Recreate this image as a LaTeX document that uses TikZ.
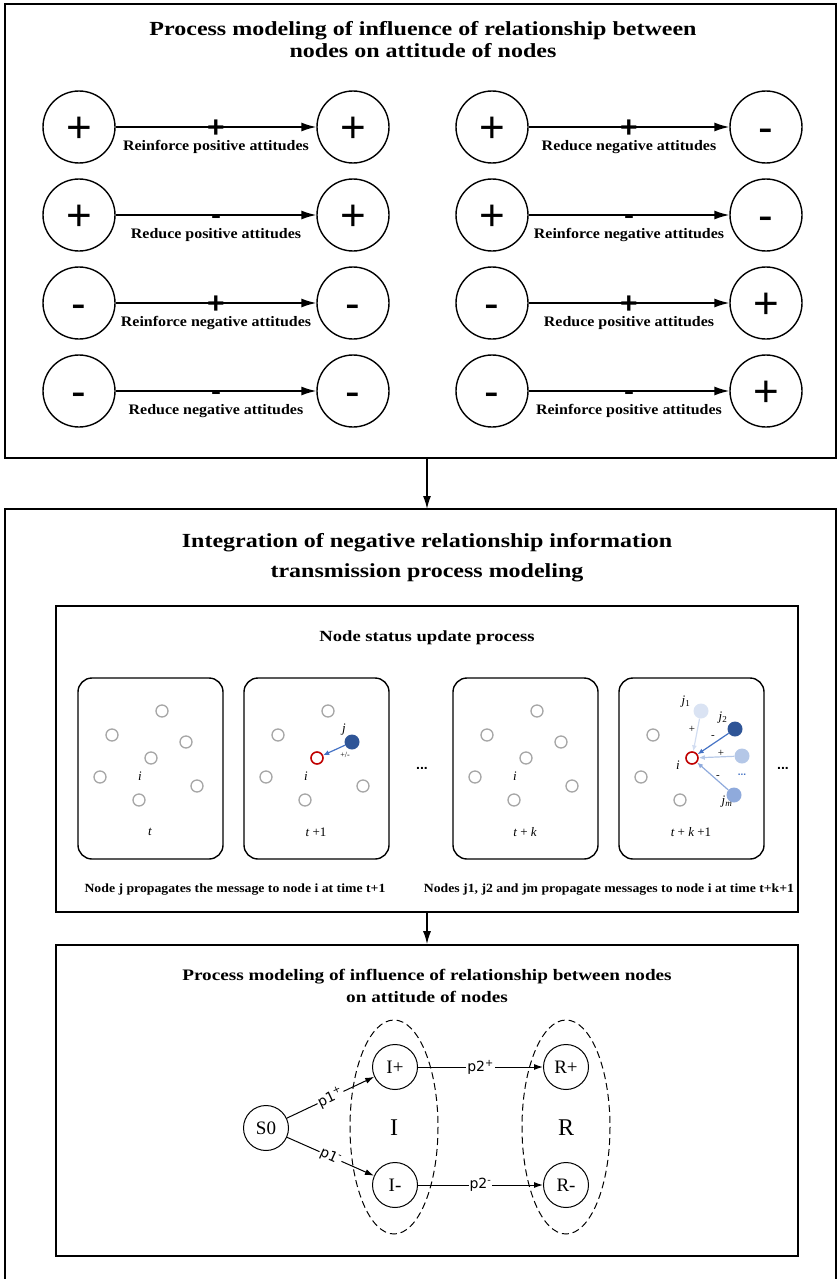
\documentclass[tikz,border=0pt]{standalone}
\usepackage{fontspec}
\setmainfont{Liberation Serif}
\newfontfamily\arialfont{Liberation Sans}
\newfontfamily\dejafont{DejaVu Sans}
\newfontfamily\headfont[FakeStretch=1.2]{Liberation Serif}
\newfontfamily\capfont[FakeStretch=1.1]{Liberation Serif}
\usetikzlibrary{arrows.meta}

\definecolor{darkBlue}{HTML}{2F5597}
\definecolor{midBlue}{HTML}{4472C4}
\definecolor{paleBlue}{HTML}{B4C7E7}
\definecolor{lightBlue}{HTML}{DAE3F3}
\definecolor{softBlue}{HTML}{8FAADC}
\definecolor{darkRed}{HTML}{C00000}

\begin{document}
\begin{tikzpicture}[x=1pt, y=-1pt,
    boxStyle/.style={draw, line width=1.6pt},
    arrowStyle/.style={line width=1.4pt, -{Latex[length=13pt, width=8pt]}},
    signStyle/.style={circle, draw, line width=1.4pt, minimum size=72pt, inner sep=0pt, text height=31pt, text depth=0pt, font=\arialfont\fontsize{44}{44}\selectfont},
    linkStyle/.style={line width=1.4pt, -{Latex[length=15pt, width=9pt]}},
    midStyle/.style={inner sep=0pt, font=\arialfont\bfseries\fontsize{30}{30}\selectfont},
    plusMid/.style={midStyle, yshift=-2pt},
    minusMid/.style={midStyle, yshift=-4.5pt},
    noteStyle/.style={inner sep=0pt, font=\capfont\bfseries\fontsize{14.5}{14.5}\selectfont},
    titleStyle/.style={align=center, font=\headfont\bfseries\fontsize{20}{22}\selectfont},
    panelStyle/.style={draw, line width=1.4pt, rounded corners=14pt, minimum width=145pt, minimum height=181pt},
    dotStyle/.style={circle, draw=gray!70, line width=1.3pt, minimum size=12pt, inner sep=0pt},
    focusStyle/.style={dotStyle, draw=darkRed, line width=1.6pt},
    senderStyle/.style={circle, minimum size=15pt, inner sep=0pt},
    varStyle/.style={inner sep=0pt, font=\itshape\fontsize{13}{13}\selectfont},
    signLabel/.style={inner sep=0pt, font=\fontsize{11}{11}\selectfont},
    tipStyle/.style={line width=1.2pt, -{Latex[length=6pt, width=5pt]}},
    captionStyle/.style={inner sep=0pt, font=\capfont\bfseries\fontsize{12.5}{12.5}\selectfont},
    stateStyle/.style={circle, draw, line width=1pt, minimum size=45pt, inner sep=0pt, font=\fontsize{19}{19}\selectfont},
    groupStyle/.style={dash pattern=on 7pt off 4pt, line width=1pt},
    flowStyle/.style={line width=1pt, -{Latex[length=9pt, width=6pt]}},
    probStyle/.style={fill=white, inner sep=1pt, font=\dejafont\fontsize{14}{14}\selectfont}
]
\useasboundingbox (0,0) rectangle (838,1279);

% attitude influence part
\node[boxStyle, minimum width=831pt, minimum height=454pt] (topBox) at (420.5,231) {};
\node[titleStyle] (topTitle) at (423,40) {Process modeling of influence of relationship between\\nodes on attitude of nodes};

\node[signStyle] (src1) at (79,127) {+};
\node[signStyle] (dst1) at (353,127) {+};
\node[signStyle] (src2) at (79,215) {+};
\node[signStyle] (dst2) at (353,215) {+};
\node[signStyle] (src3) at (79,303) {-};
\node[signStyle] (dst3) at (353,303) {-};
\node[signStyle] (src4) at (79,391) {-};
\node[signStyle] (dst4) at (353,391) {-};
\node[signStyle] (src5) at (492,127) {+};
\node[signStyle] (dst5) at (766,127) {-};
\node[signStyle] (src6) at (492,215) {+};
\node[signStyle] (dst6) at (766,215) {-};
\node[signStyle] (src7) at (492,303) {-};
\node[signStyle] (dst7) at (766,303) {+};
\node[signStyle] (src8) at (492,391) {-};
\node[signStyle] (dst8) at (766,391) {+};

\draw[linkStyle] (src1) -- node[plusMid] {+} node[noteStyle, yshift=-20pt] {Reinforce positive attitudes} (dst1);
\draw[linkStyle] (src2) -- node[minusMid] {-} node[noteStyle, yshift=-20pt] {Reduce positive attitudes} (dst2);
\draw[linkStyle] (src3) -- node[plusMid] {+} node[noteStyle, yshift=-20pt] {Reinforce negative attitudes} (dst3);
\draw[linkStyle] (src4) -- node[minusMid] {-} node[noteStyle, yshift=-20pt] {Reduce negative attitudes} (dst4);
\draw[linkStyle] (src5) -- node[plusMid] {+} node[noteStyle, yshift=-20pt] {Reduce negative attitudes} (dst5);
\draw[linkStyle] (src6) -- node[minusMid] {-} node[noteStyle, yshift=-20pt] {Reinforce negative attitudes} (dst6);
\draw[linkStyle] (src7) -- node[plusMid] {+} node[noteStyle, yshift=-20pt] {Reduce positive attitudes} (dst7);
\draw[linkStyle] (src8) -- node[minusMid] {-} node[noteStyle, yshift=-20pt] {Reinforce positive attitudes} (dst8);

% integration part
\draw[boxStyle] (5,1279) -- (5,509) -- (836,509) -- (836,1279);
\coordinate (mainTop) at (427,509);
\node[titleStyle, font=\headfont\bfseries\fontsize{20}{30}\selectfont] (mainTitle) at (427,558) {Integration of negative relationship information\\transmission process modeling};

\node[boxStyle, minimum width=742pt, minimum height=306pt] (updateBox) at (427,759) {};
\node[font=\headfont\bfseries\fontsize{15.5}{15.5}\selectfont] (updateTitle) at (427,638) {Node status update process};

\begin{scope}[shift={(78,678)}]
    \node[panelStyle] (panel1) at (72.5,90.5) {};
    \node[dotStyle] (a1) at (84,33) {};
    \node[dotStyle] (a2) at (34,57) {};
    \node[dotStyle] (a3) at (108,64) {};
    \node[dotStyle] (a4) at (73,80) {};
    \node[dotStyle] (a5) at (22,99) {};
    \node[dotStyle] (a6) at (119,108) {};
    \node[dotStyle] (a7) at (61,122) {};
    \node[varStyle] (ia) at (62,98) {i};
    \node[varStyle] (ta) at (72,154) {t};
\end{scope}

\begin{scope}[shift={(244,678)}]
    \node[panelStyle] (panel2) at (72.5,90.5) {};
    \node[dotStyle] (b1) at (84,33) {};
    \node[dotStyle] (b2) at (34,57) {};
    \node[focusStyle] (b4) at (73,80) {};
    \node[dotStyle] (b5) at (22,99) {};
    \node[dotStyle] (b6) at (119,108) {};
    \node[dotStyle] (b7) at (61,122) {};
    \node[senderStyle, fill=darkBlue] (jA) at (108,64) {};
    \node[varStyle] (jLabelA) at (100,52) {j};
    \node[varStyle] (ib) at (62,98) {i};
    \node[signLabel, font=\fontsize{8}{8}\selectfont] (pmA) at (101,77) {+/-};
    \node[varStyle] (tb) at (72,154) {t {\upshape +1}};
    \draw[tipStyle, midBlue] (jA) -- (b4);
\end{scope}

\node[font=\arialfont\bfseries\fontsize{14}{14}\selectfont] (gap1) at (422,768) {...};

\begin{scope}[shift={(453,678)}]
    \node[panelStyle] (panel3) at (72.5,90.5) {};
    \node[dotStyle] (c1) at (84,33) {};
    \node[dotStyle] (c2) at (34,57) {};
    \node[dotStyle] (c3) at (108,64) {};
    \node[dotStyle] (c4) at (73,80) {};
    \node[dotStyle] (c5) at (22,99) {};
    \node[dotStyle] (c6) at (119,108) {};
    \node[dotStyle] (c7) at (61,122) {};
    \node[varStyle] (ic) at (62,98) {i};
    \node[varStyle] (tc) at (72,154) {t {\upshape +} k};
\end{scope}

\begin{scope}[shift={(619,678)}]
    \node[panelStyle] (panel4) at (72.5,90.5) {};
    \node[dotStyle] (d2) at (34,57) {};
    \node[dotStyle] (d5) at (22,99) {};
    \node[dotStyle] (d7) at (61,122) {};
    \node[focusStyle] (d4) at (73,80) {};
    \node[senderStyle, fill=lightBlue] (j1) at (82,33) {};
    \node[senderStyle, fill=darkBlue] (j2) at (116,51) {};
    \node[senderStyle, fill=paleBlue] (j3) at (123,78) {};
    \node[senderStyle, fill=softBlue] (jm) at (115,117) {};
    \node[varStyle] (jLabel1) at (67,24) {j\textsubscript{\upshape 1}};
    \node[varStyle] (jLabel2) at (104,40) {j\textsubscript{\upshape 2}};
    \node[varStyle] (jLabelm) at (108,124) {j\textsubscript{m}};
    \node[varStyle] (id) at (59,87) {i};
    \node[signLabel] (s1) at (73,51) {+};
    \node[signLabel] (s2) at (94,59) {-};
    \node[signLabel] (s3) at (102,75) {+};
    \node[signLabel] (s4) at (99,99) {-};
    \node[font=\arialfont\bfseries\fontsize{10}{10}\selectfont, text=midBlue] (moreSenders) at (123,97) {...};
    \node[varStyle] (td) at (72,154) {t {\upshape +} k {\upshape +1}};
    \draw[tipStyle, lightBlue!80!paleBlue] (j1) -- (d4);
    \draw[tipStyle, midBlue] (j2) -- (d4);
    \draw[tipStyle, paleBlue] (j3) -- (d4);
    \draw[tipStyle, softBlue] (jm) -- (d4);
\end{scope}

\node[font=\arialfont\bfseries\fontsize{14}{14}\selectfont] (gap2) at (783,768) {...};

\node[captionStyle] (caption1) at (235,890) {Node j propagates the message to node i at time t+1};
\node[captionStyle] (caption2) at (609,890) {Nodes j1, j2 and jm propagate messages to node i at time t+k+1};

\node[boxStyle, minimum width=742pt, minimum height=311pt] (modelBox) at (427,1100.5) {};
\node[titleStyle, font=\headfont\bfseries\fontsize{16}{22}\selectfont] (modelTitle) at (427,986) {Process modeling of influence of relationship between nodes\\on attitude of nodes};

\draw[groupStyle] (394,1127) ellipse [x radius=44, y radius=107];
\draw[groupStyle] (566,1127) ellipse [x radius=44, y radius=107];
\node[font=\fontsize{24}{24}\selectfont] (setI) at (394,1128) {I};
\node[font=\fontsize{24}{24}\selectfont] (setR) at (566,1128) {R};
\node[stateStyle] (S0) at (266,1128) {S0};
\node[stateStyle] (Ipos) at (395,1067) {I+};
\node[stateStyle] (Ineg) at (395,1185) {I-};
\node[stateStyle] (Rpos) at (566,1067) {R+};
\node[stateStyle] (Rneg) at (566,1185) {R-};

\draw[flowStyle] (S0) -- node[probStyle, sloped] {p1\textsuperscript{+}} (Ipos);
\draw[flowStyle] (S0) -- node[probStyle, sloped] {p1\textsuperscript{-}} (Ineg);
\draw[flowStyle] (Ipos) -- node[probStyle] {p2\textsuperscript{+}} (Rpos);
\draw[flowStyle] (Ineg) -- node[probStyle] {p2\textsuperscript{-}} (Rneg);

\draw[arrowStyle] (updateBox.north |- topBox.south) -- (mainTop);
\draw[arrowStyle] (updateBox.south) -- (modelBox.north);
\end{tikzpicture}
\end{document}
